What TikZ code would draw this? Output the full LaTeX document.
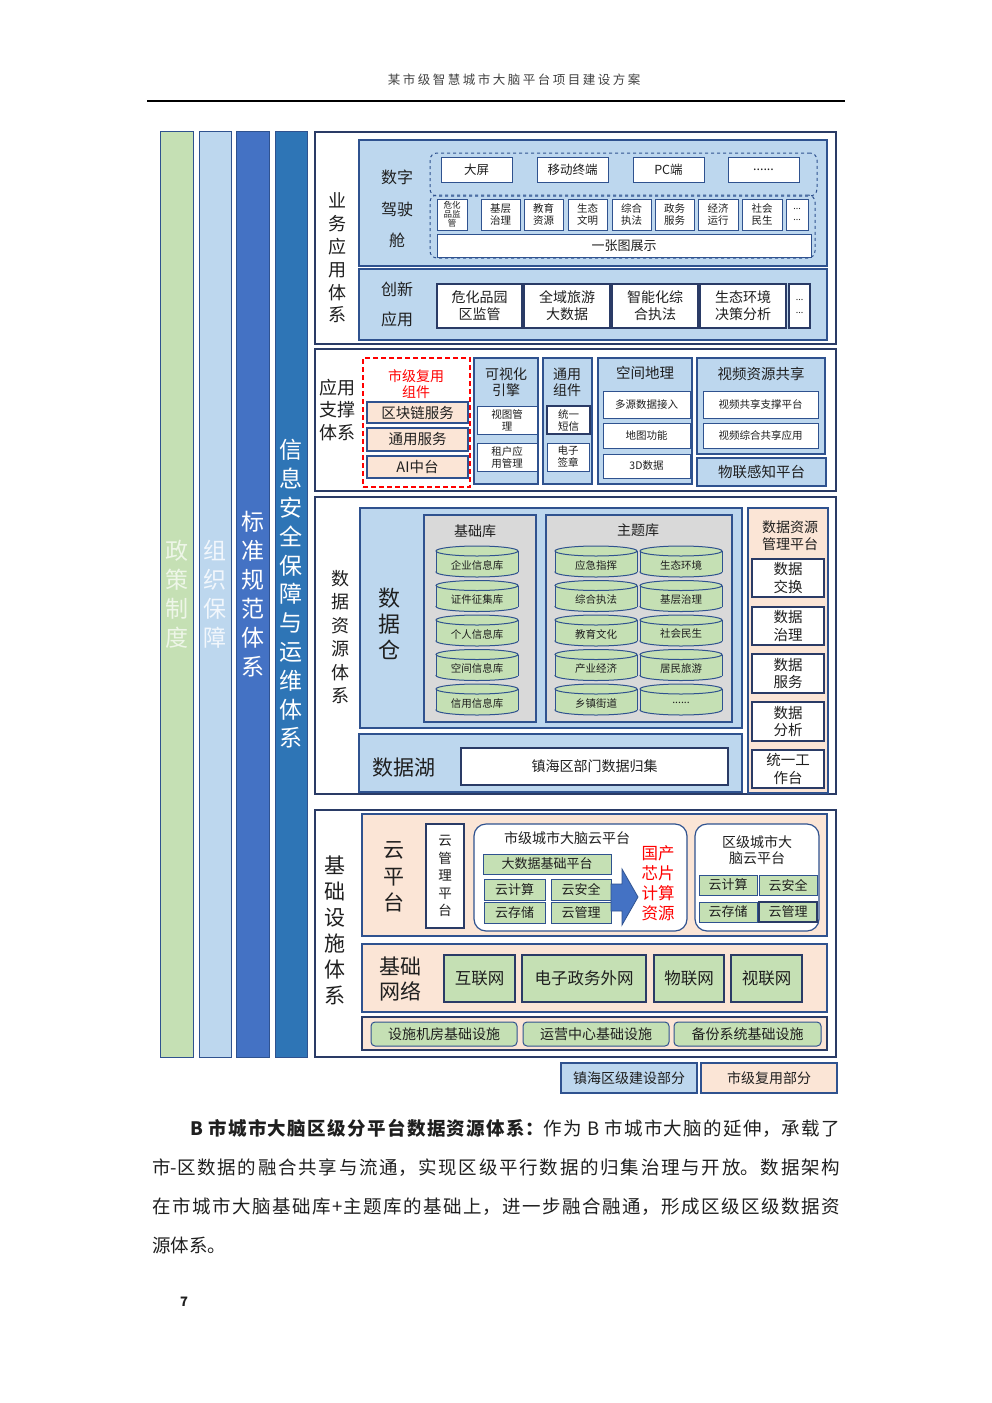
\documentclass[tikz,border=0pt]{standalone}
\usepackage{fontspec}
\setmainfont{Noto Sans CJK SC}
\newfontfamily\hdrfont{Noto Sans CJK SC}[LetterSpace=20]
\XeTeXlinebreaklocale "zh"
\XeTeXlinebreakskip=0pt plus 3pt
\definecolor{cGreen}{HTML}{C5E0B4}
\definecolor{cLBlue}{HTML}{BDD7EE}
\definecolor{cBlue}{HTML}{4472C4}
\definecolor{cSteel}{HTML}{2E75B6}
\definecolor{cPeach}{HTML}{FBE5D6}
\definecolor{cGray}{HTML}{D9D9D9}
\definecolor{cNavy}{HTML}{2A3B66}
\definecolor{cEdge}{HTML}{2F528F}
\definecolor{cText}{HTML}{1F1F1F}
\definecolor{cHdr}{HTML}{404040}
\definecolor{cPaleG}{HTML}{EEF6E8}
\definecolor{cPaleB}{HTML}{F2F7FC}
\newcommand\fs[2]{\fontsize{#1}{#2}\selectfont}
\newcommand\bx[7]{\node[#6,minimum width={#4pt-#2pt},minimum height={#5pt-#3pt}] (#1) at ({(#2+#4)/2},{(#3+#5)/2}) {#7};}
\newcommand\cyl[6]{%
 \pgfmathsetmacro\cylcx{(#2+#4)/2}%
 \pgfmathsetmacro\cylrx{(#4-#2)/2}%
 \filldraw[cylst] (\cylcx,#5-5) ellipse [x radius=\cylrx pt, y radius=5pt];
 \fill[cGreen] (#2,#3+5) rectangle (#4,#5-5);
 \draw[draw=cEdge,line width=1pt] (#2,#3+5) -- (#2,#5-5) (#4,#3+5) -- (#4,#5-5);
 \filldraw[cylst] (\cylcx,#3+5) ellipse [x radius=\cylrx pt, y radius=5pt];
 \node[lbl,font=\fs{10.5}{12}] (#1) at (\cylcx,#3+19) {#6};}
\begin{document}
\begin{tikzpicture}[x=1pt,y=-1pt,
 lbl/.style={inner sep=0pt,outer sep=0pt,align=center,text=cText},
 obx/.style={lbl,draw=cNavy,line width=1.5pt,fill=white},
 blbx/.style={lbl,draw=cEdge,line width=1.2pt,fill=cLBlue},
 pcbx/.style={lbl,draw=cEdge,line width=1.2pt,fill=cPeach},
 whbx/.style={lbl,draw=cEdge,line width=1pt,fill=white},
 grbx/.style={lbl,draw=cEdge,line width=1pt,fill=cGreen},
 gybx/.style={lbl,draw=cEdge,line width=1.2pt,fill=cGray},
 dashbx/.style={lbl,draw=cEdge,line width=1pt,dashed,rounded corners=7pt},
 reddashbx/.style={lbl,draw=red,line width=1.5pt,dash pattern=on 5pt off 3pt},
 rndbx/.style={lbl,draw=cEdge,line width=1.2pt,fill=white,rounded corners=12pt},
 grrndbx/.style={grbx,rounded corners=4pt},
 colbx/.style={lbl,draw=cEdge,line width=0.8pt},
 cylst/.style={fill=cGreen,draw=cEdge,line width=1pt}]
\useasboundingbox (0,0) rectangle (992,1403);
% header
\node[lbl,font=\hdrfont\fs{12.5}{15},text=cHdr] (hdr) at (514,80) {某市级智慧城市大脑平台项目建设方案};
\coordinate (hl) at (147,101); \coordinate (hr) at (845,101);
\draw[line width=1.5pt] (hl) -- (hr);
% left columns
\bx{colA}{160}{131}{193}{1057}{colbx,fill=cGreen,text=cPaleG,font=\fs{23}{29}}{政\\策\\制\\度}
\bx{colB}{199}{131}{231}{1057}{colbx,fill=cLBlue,text=cPaleB,font=\fs{23}{29}}{组\\织\\保\\障}
\bx{colC}{236}{131}{269}{1057}{colbx,fill=cBlue,text=white,font=\fs{23}{29}}{标\\准\\规\\范\\体\\系}
\bx{colD}{275}{131}{307}{1057}{colbx,fill=cSteel,text=white,font=\fs{23}{28.8}}{信\\息\\安\\全\\保\\障\\与\\运\\维\\体\\系}
% ===== business
\bx{biz}{315}{132}{836}{344}{obx}{}
\node[lbl,font=\fs{18}{22.8}] (bizl) at (337,258) {业\\务\\应\\用\\体\\系};
\bx{cockpit}{359}{140}{827}{266}{blbx}{}
\node[lbl,font=\fs{16}{20}] (ck1) at (397,177) {数字};
\node[lbl,font=\fs{16}{20}] (ck2) at (397,209) {驾驶};
\node[lbl,font=\fs{16}{20}] (ck3) at (397,240) {舱};
\bx{term}{430}{153}{817}{196}{dashbx}{}
\bx{dom}{430}{195}{815}{258}{dashbx}{}
\bx{t1}{441}{157}{512}{182}{whbx,font=\fs{12.5}{15}}{大屏}
\bx{t2}{537}{157}{608}{182}{whbx,font=\fs{12.5}{15}}{移动终端}
\bx{t3}{633}{157}{704}{182}{whbx,font=\fs{12.5}{15}}{PC端}
\bx{t4}{728}{157}{799}{182}{whbx,font=\fs{12.5}{15}}{......}
\bx{d1}{437}{199}{467}{230}{whbx,font=\fs{8.5}{9}}{危化\\品监\\管}
\bx{d2}{481}{199}{520}{230}{whbx,font=\fs{10.5}{11.5}}{基层\\治理}
\bx{d3}{524}{199}{563}{230}{whbx,font=\fs{10.5}{11.5}}{教育\\资源}
\bx{d4}{568}{199}{607}{230}{whbx,font=\fs{10.5}{11.5}}{生态\\文明}
\bx{d5}{612}{199}{651}{230}{whbx,font=\fs{10.5}{11.5}}{综合\\执法}
\bx{d6}{655}{199}{694}{230}{whbx,font=\fs{10.5}{11.5}}{政务\\服务}
\bx{d7}{698}{199}{738}{230}{whbx,font=\fs{10.5}{11.5}}{经济\\运行}
\bx{d8}{742}{199}{782}{230}{whbx,font=\fs{10.5}{11.5}}{社会\\民生}
\bx{d9}{786}{199}{808}{230}{whbx,font=\fs{9}{11.5}}{...\\...}
\bx{onemap}{437}{234}{811}{257}{whbx,font=\fs{13}{15}}{一张图展示}
\bx{innov}{359}{269}{827}{340}{blbx}{}
\node[lbl,font=\fs{16}{20}] (in1) at (397,289) {创新};
\node[lbl,font=\fs{16}{20}] (in2) at (397,319) {应用};
\bx{i1}{437}{284}{522}{328}{whbx,draw=cNavy,line width=1.3pt,font=\fs{14}{17}}{危化品园\\区监管}
\bx{i2}{524}{284}{610}{328}{whbx,draw=cNavy,line width=1.3pt,font=\fs{14}{17}}{全域旅游\\大数据}
\bx{i3}{612}{284}{698}{328}{whbx,draw=cNavy,line width=1.3pt,font=\fs{14}{17}}{智能化综\\合执法}
\bx{i4}{700}{284}{786}{328}{whbx,draw=cNavy,line width=1.3pt,font=\fs{14}{17}}{生态环境\\决策分析}
\bx{i5}{789}{284}{810}{328}{whbx,draw=cNavy,line width=1.3pt,font=\fs{9}{13}}{...\\...}
% ===== support
\bx{sup}{315}{349}{836}{491}{obx}{}
\node[lbl,font=\fs{18}{22.5}] (supl) at (337,410) {应用\\支撑\\体系};
\bx{reuse}{363}{358}{470}{487}{reddashbx}{}
\node[lbl,font=\fs{14}{16},text=red] (reusel) at (416,384) {市级复用\\组件};
\bx{s1}{367}{402}{468}{423}{pcbx,font=\fs{14.5}{16}}{区块链服务}
\bx{s2}{367}{428}{468}{451}{pcbx,font=\fs{14.5}{16}}{通用服务}
\bx{s3}{367}{456}{468}{478}{pcbx,font=\fs{14.5}{16}}{AI中台}
\bx{viz}{474}{358}{538}{484}{blbx}{}
\node[lbl,font=\fs{14}{16}] (vizl) at (506,382) {可视化\\引擎};
\bx{v1}{477}{406}{537}{434}{whbx,font=\fs{10.5}{12}}{视图管\\理}
\bx{v2}{477}{443}{537}{471}{whbx,font=\fs{10.5}{12}}{租户应\\用管理}
\bx{comm}{543}{358}{592}{484}{blbx}{}
\node[lbl,font=\fs{14}{16}] (comml) at (567,382) {通用\\组件};
\bx{c1}{547}{406}{590}{434}{whbx,draw=cNavy,line width=1.3pt,font=\fs{10.5}{12}}{统一\\短信}
\bx{c2}{547}{443}{589}{471}{whbx,font=\fs{10.5}{12}}{电子\\签章}
\bx{geo}{598}{358}{692}{484}{blbx}{}
\node[lbl,font=\fs{14.5}{16}] (geol) at (645,373) {空间地理};
\bx{g1}{603}{391}{690}{418}{whbx,font=\fs{10.5}{12}}{多源数据接入}
\bx{g2}{603}{423}{690}{448}{whbx,font=\fs{10.5}{12}}{地图功能}
\bx{g3}{603}{454}{690}{478}{whbx,font=\fs{10.5}{12}}{3D数据}
\bx{video}{697}{358}{825}{454}{blbx}{}
\node[lbl,font=\fs{14.5}{16}] (videol) at (761,374) {视频资源共享};
\bx{vd1}{703}{391}{818}{418}{whbx,font=\fs{10.5}{12}}{视频共享支撑平台}
\bx{vd2}{703}{423}{818}{448}{whbx,font=\fs{10.5}{12}}{视频综合共享应用}
\bx{iot}{697}{458}{826}{486}{blbx,font=\fs{14.5}{16}}{物联感知平台}
% ===== data resources
\bx{dres}{315}{497}{836}{794}{obx}{}
\node[lbl,font=\fs{18}{23.4}] (dresl) at (340,637) {数\\据\\资\\源\\体\\系};
\bx{dw}{360}{508}{742}{728}{blbx}{}
\node[lbl,font=\fs{22}{26}] (dwl) at (389,624) {数\\据\\仓};
\bx{blib}{424}{515}{536}{722}{gybx}{}
\node[lbl,font=\fs{14}{16}] (blibl) at (475,531) {基础库};
\bx{tlib}{546}{515}{732}{722}{gybx}{}
\node[lbl,font=\fs{14}{16}] (tlibl) at (638,530) {主题库};
\cyl{b1}{436}{546}{518}{577}{企业信息库}
\cyl{b2}{436}{580.5}{518}{611.5}{证件征集库}
\cyl{b3}{436}{615}{518}{646}{个人信息库}
\cyl{b4}{436}{649.5}{518}{680.5}{空间信息库}
\cyl{b5}{436}{684}{518}{715}{信用信息库}
\cyl{ta1}{555}{546}{637}{577}{应急指挥}
\cyl{ta2}{555}{580.5}{637}{611.5}{综合执法}
\cyl{ta3}{555}{615}{637}{646}{教育文化}
\cyl{ta4}{555}{649.5}{637}{680.5}{产业经济}
\cyl{ta5}{555}{684}{637}{715}{乡镇街道}
\cyl{tb1}{640}{546}{722}{577}{生态环境}
\cyl{tb2}{640}{580.5}{722}{611.5}{基层治理}
\cyl{tb3}{640}{615}{722}{646}{社会民生}
\cyl{tb4}{640}{649.5}{722}{680.5}{居民旅游}
\cyl{tb5}{640}{684}{722}{715}{......}
\bx{lake}{359}{734}{742}{792}{blbx}{}
\node[lbl,font=\fs{21}{24}] (lakel) at (404,768) {数据湖};
\bx{lakebox}{461}{748}{728}{785}{whbx,draw=cNavy,line width=1.3pt,font=\fs{14}{16}}{镇海区部门数据归集}
\bx{mgmt}{748}{508}{828}{793}{pcbx}{}
\node[lbl,font=\fs{14}{17}] (mgmtl) at (790,536) {数据资源\\管理平台};
\bx{m1}{752}{559}{824}{597}{whbx,draw=cNavy,line width=1.3pt,font=\fs{14.5}{17.5}}{数据\\交换}
\bx{m2}{752}{607}{824}{645}{whbx,draw=cNavy,line width=1.3pt,font=\fs{14.5}{17.5}}{数据\\治理}
\bx{m3}{752}{654}{824}{693}{whbx,draw=cNavy,line width=1.3pt,font=\fs{14.5}{17.5}}{数据\\服务}
\bx{m4}{752}{702}{824}{741}{whbx,draw=cNavy,line width=1.3pt,font=\fs{14.5}{17.5}}{数据\\分析}
\bx{m5}{752}{750}{824}{788}{whbx,draw=cNavy,line width=1.3pt,font=\fs{14.5}{17.5}}{统一工\\作台}
% ===== infrastructure
\bx{infra}{315}{810}{836}{1057}{obx}{}
\node[lbl,font=\fs{21}{26}] (infral) at (335,930) {基\\础\\设\\施\\体\\系};
\bx{cloud}{362}{814}{827}{936}{pcbx}{}
\node[lbl,font=\fs{21}{26.5}] (cloudl) at (394,877) {云\\平\\台};
\bx{cmgmt}{426}{824}{464}{928}{whbx,draw=cNavy,line width=1.3pt,font=\fs{13.5}{17.5}}{云\\管\\理\\平\\台}
\bx{citycloud}{474}{824}{687}{931}{rndbx}{}
\node[lbl,font=\fs{14}{16}] (cityl) at (567,838) {市级城市大脑云平台};
\bx{cc0}{483}{854}{611}{874}{grbx,font=\fs{13}{15}}{大数据基础平台}
\bx{cc1}{484}{879}{545}{900}{grbx,font=\fs{13}{15}}{云计算}
\bx{cc2}{551}{879}{611}{900}{grbx,font=\fs{13}{15}}{云安全}
\bx{cc3}{484}{902}{545}{923}{grbx,font=\fs{13}{15}}{云存储}
\bx{cc4}{551}{902}{611}{923}{grbx,font=\fs{13}{15}}{云管理}
\filldraw[fill=cBlue,draw=cEdge,line width=0.8pt] (cc2.east |- 0,884) -- (622,884) -- (622,869) -- (638,897) -- (622,925) -- (622,911) -- (cc4.east |- 0,911) -- cycle;
\node[lbl,font=\fs{16.5}{20},text=red] (chip) at (658,883) {国产\\芯片\\计算\\资源};
\bx{distcloud}{695}{824}{819}{931}{rndbx}{}
\node[lbl,font=\fs{14}{16}] (distl) at (757,850) {区级城市大\\脑云平台};
\bx{dc1}{699}{875}{757}{895}{grbx,font=\fs{13}{15}}{云计算}
\bx{dc2}{759}{875}{817}{895}{grbx,font=\fs{13}{15}}{云安全}
\bx{dc3}{699}{902}{757}{922}{grbx,font=\fs{13}{15}}{云存储}
\bx{dc4}{759}{902}{817}{922}{grbx,draw=cNavy,line width=1.3pt,font=\fs{13}{15}}{云管理}
\bx{net}{362}{944}{827}{1012}{pcbx}{}
\node[lbl,font=\fs{21}{25}] (netl) at (400,979) {基础\\网络};
\bx{n1}{444}{955}{515}{1002}{grbx,draw=cNavy,line width=1.3pt,font=\fs{16.5}{18}}{互联网}
\bx{n2}{522}{955}{646}{1002}{grbx,draw=cNavy,line width=1.3pt,font=\fs{16.5}{18}}{电子政务外网}
\bx{n3}{654}{955}{724}{1002}{grbx,draw=cNavy,line width=1.3pt,font=\fs{16.5}{18}}{物联网}
\bx{n4}{731}{955}{802}{1002}{grbx,draw=cNavy,line width=1.3pt,font=\fs{16.5}{18}}{视联网}
\bx{facil}{362}{1017}{827}{1050}{pcbx,draw=cNavy,line width=1.5pt}{}
\bx{f1}{371}{1022}{517}{1046}{grrndbx,font=\fs{14}{16}}{设施机房基础设施}
\bx{f2}{523}{1022}{669}{1046}{grrndbx,font=\fs{14}{16}}{运营中心基础设施}
\bx{f3}{674}{1022}{821}{1046}{grrndbx,font=\fs{14}{16}}{备份系统基础设施}
% legend
\bx{legA}{561}{1063}{697}{1093}{blbx,font=\fs{14}{16}}{镇海区级建设部分}
\bx{legB}{701}{1063}{837}{1093}{pcbx,font=\fs{14}{16}}{市级复用部分}
% paragraph
\node[anchor=base west,inner sep=0pt,text=cText] (para) at (152,1135) {\parbox[t]{688pt}{\fs{18.5}{39}\setlength\parindent{0pt}\hspace*{38pt}\textbf{B 市城市大脑区级分平台数据资源体系：}作为 B 市城市大脑的延伸，承载了\linebreak 市-区数据的融合共享与流通，实现区级平行数据的归集治理与开放。数据架构\linebreak 在市城市大脑基础库+主题库的基础上，进一步融合融通，形成区级区级数据资\linebreak 源体系。}};
\node[lbl,font=\bfseries\fs{13}{15}] (pgno) at (184,1302) {7};
\end{tikzpicture}
\end{document}
